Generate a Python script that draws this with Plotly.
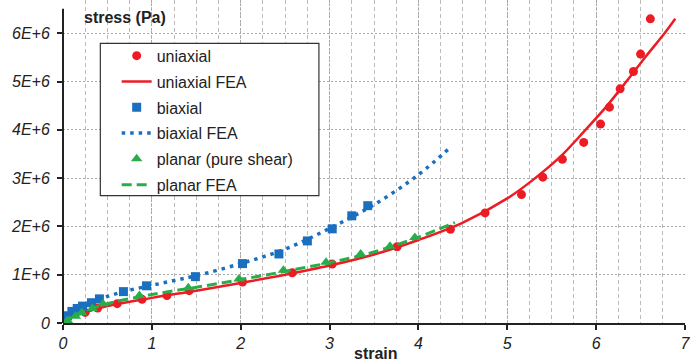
import plotly.graph_objects as go

# ---- data (strain, stress in Pa) ----
uni_strain = [0, 0.25, 0.39, 0.61, 0.89, 1.17, 1.42, 2.02, 2.58, 3.03, 3.76, 4.36, 4.75,
              5.16, 5.40, 5.62, 5.86, 6.05, 6.15, 6.27, 6.42, 6.50, 6.61]
uni_stress = [0, 0.22e6, 0.31e6, 0.40e6, 0.49e6, 0.57e6, 0.67e6, 0.85e6, 1.04e6, 1.22e6, 1.58e6,
              1.94e6, 2.28e6, 2.66e6, 3.02e6, 3.39e6, 3.74e6, 4.12e6, 4.47e6, 4.85e6, 5.21e6,
              5.57e6, 6.30e6]

uni_fea_strain = [0, 0.1, 0.25, 0.5, 1.0, 1.5, 2.0, 2.5, 3.0, 3.5, 4.0, 4.5, 5.0, 5.3,
                  5.6, 5.87, 6.1, 6.34, 6.55, 6.77, 6.89]
uni_fea_stress = [0, 0.12e6, 0.22e6, 0.35e6, 0.52e6, 0.67e6, 0.83e6, 1.0e6, 1.19e6, 1.42e6,
                  1.72e6, 2.08e6, 2.58e6, 2.98e6, 3.45e6, 3.98e6, 4.45e6, 5.0e6, 5.5e6,
                  6.0e6, 6.3e6]

bi_strain = [0.02, 0.05, 0.1, 0.16, 0.22, 0.32, 0.41, 0.68, 0.94, 1.49, 2.02, 2.43, 2.75,
             3.03, 3.25, 3.43]
bi_stress = [0.05e6, 0.15e6, 0.24e6, 0.30e6, 0.35e6, 0.42e6, 0.50e6, 0.65e6, 0.77e6, 0.96e6,
             1.23e6, 1.43e6, 1.70e6, 1.95e6, 2.22e6, 2.43e6]

bi_fea_strain = [0, 0.1, 0.25, 0.5, 0.75, 1.0, 1.25, 1.5, 2.0, 2.5, 3.0, 3.5, 4.0, 4.36]
bi_fea_stress = [0, 0.2e6, 0.36e6, 0.55e6, 0.68e6, 0.78e6, 0.88e6, 0.98e6, 1.23e6, 1.53e6,
                 1.96e6, 2.45e6, 3.07e6, 3.64e6]

pl_strain = [0.05, 0.14, 0.21, 0.33, 0.45, 0.86, 1.41, 1.98, 2.48, 2.96, 3.35, 3.68, 3.96]
pl_stress = [0.05e6, 0.14e6, 0.21e6, 0.30e6, 0.40e6, 0.57e6, 0.73e6, 0.91e6, 1.09e6, 1.26e6,
             1.43e6, 1.59e6, 1.77e6]

pl_fea_strain = [0, 0.1, 0.25, 0.5, 1.0, 1.5, 2.0, 2.5, 3.0, 3.5, 4.0, 4.41]
pl_fea_stress = [0, 0.13e6, 0.25e6, 0.40e6, 0.59e6, 0.74e6, 0.90e6, 1.07e6, 1.25e6, 1.47e6,
                 1.78e6, 2.08e6]

x_ticks = [0, 1, 2, 3, 4, 5, 6, 7]
x_ticktext = ["0", "1", "2", "3", "4", "5", "6", "7"]
y_ticks = [0, 1e6, 2e6, 3e6, 4e6, 5e6, 6e6]
y_ticktext = ["0", "1E+6", "2E+6", "3E+6", "4E+6", "5E+6", "6E+6"]

RED = "#ED1C24"
BLUE = "#1B6FBF"
GREEN = "#27AE4A"
FONT = "Liberation Sans, Arial, sans-serif"

fig = go.Figure()
fig.add_trace(go.Scatter(x=uni_strain, y=uni_stress, mode="markers", name="uniaxial",
                         legendgroup="a", marker=dict(symbol="circle", size=9, color=RED)))
fig.add_trace(go.Scatter(x=uni_fea_strain, y=uni_fea_stress, mode="lines", name="uniaxial FEA",
                         legendgroup="b", line=dict(color=RED, width=2.5, shape="spline")))
fig.add_trace(go.Scatter(x=bi_strain, y=bi_stress, mode="markers", name="biaxial",
                         legendgroup="c", marker=dict(symbol="square", size=9, color=BLUE)))
fig.add_trace(go.Scatter(x=bi_fea_strain, y=bi_fea_stress, mode="lines", name="biaxial FEA",
                         legendgroup="d",
                         line=dict(color=BLUE, width=3.5, dash="3.5px,5px", shape="spline")))
fig.add_trace(go.Scatter(x=pl_strain, y=pl_stress, mode="markers", name="planar (pure shear)",
                         legendgroup="e", marker=dict(symbol="triangle-up", size=10, color=GREEN)))
fig.add_trace(go.Scatter(x=pl_fea_strain, y=pl_fea_stress, mode="lines", name="planar FEA",
                         legendgroup="f",
                         line=dict(color=GREEN, width=3, dash="10px,5px", shape="spline")))

fig.update_layout(
    width=698, height=364,
    margin=dict(l=63, r=13, t=0, b=41),
    paper_bgcolor="white", plot_bgcolor="white",
    font=dict(family=FONT, size=15, color="#222222"),
    showlegend=True,
    legend=dict(x=0.0863, y=0.88, xanchor="left", yanchor="top",
                bgcolor="rgba(0,0,0,0)", borderwidth=0,
                font=dict(family=FONT, size=16, color="#222222"),
                traceorder="grouped", tracegroupgap=2),
    xaxis=dict(range=[0, 7], tickvals=x_ticks, ticktext=x_ticktext,
               showline=True, linecolor="#222222", linewidth=2,
               ticks="outside", ticklen=5, tickwidth=1.5, tickcolor="#222222",
               tickfont=dict(family=FONT, size=16, color="#222222", style="italic"),
               showgrid=True, gridcolor="#A8A8A8", gridwidth=1, griddash="2px,2px",
               minor=dict(dtick=0.25, tick0=0, showgrid=True, gridcolor="#BBBBBB",
                          gridwidth=1, griddash="4px,3px", ticks=""),
               zeroline=False, fixedrange=True, automargin=False),
    yaxis=dict(range=[0, 6.69e6], tickvals=y_ticks, ticktext=y_ticktext,
               showline=False,
               ticks="outside", ticklen=5, tickwidth=1.5, tickcolor="#222222",
               ticklabelstandoff=4,
               tickfont=dict(family=FONT, size=16, color="#222222", style="italic"),
               showgrid=True, gridcolor="#A8A8A8", gridwidth=1, griddash="2px,2px",
               zeroline=False, fixedrange=True, automargin=False),
    shapes=[
        dict(type="line", xref="paper", yref="y", x0=0, x1=0, y0=0, y1=6.51e6,
             line=dict(color="#222222", width=2), layer="above"),
        dict(type="rect", xref="x", yref="y", x0=0.42, x1=2.88, y0=2.64e6, y1=5.79e6,
             line=dict(color="#333333", width=1.2), fillcolor="white", layer="between"),
    ],
    annotations=[
        dict(text="<b>stress (Pa)</b>", xref="paper", yref="y", x=0.031, y=6.33e6,
             xanchor="left", yanchor="middle", showarrow=False,
             font=dict(family=FONT, size=16, color="#222222")),
        dict(text="<b>strain</b>", xref="x", yref="paper", x=3.52, y=-0.095,
             xanchor="center", yanchor="middle", showarrow=False,
             font=dict(family=FONT, size=16, color="#222222")),
    ],
)

fig.write_html("out.html", config={"displayModeBar": False},
               post_script="document.body.style.margin='0';document.body.style.overflow='hidden';")
